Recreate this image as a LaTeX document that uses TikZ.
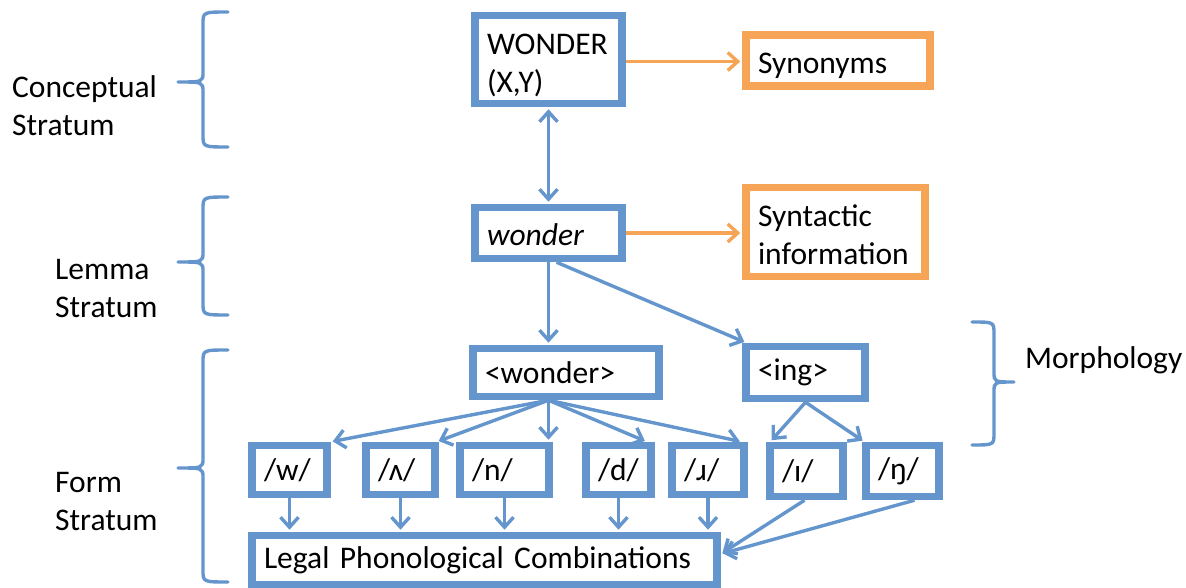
\documentclass[tikz,border=0pt]{standalone}
\usepackage{fontspec}
\setmainfont{Carlito}
\usetikzlibrary{arrows.meta}
\definecolor{bl}{RGB}{100,150,205}
\definecolor{og}{RGB}{245,165,85}
\newcommand\lowtxt[3]{\parbox{#1}{\raggedright\vspace*{#2}#3}}
\begin{document}
\begin{tikzpicture}[x=1pt,y=-1pt,
 font=\fontsize{31.5}{38}\selectfont,
 >={Straight Barb[length=10pt,width=18pt]},
 box/.style={draw=bl, line width=7.5pt, inner xsep=12pt, inner ysep=0pt, align=left},
 obox/.style={box, draw=og},
 conn/.style={draw=bl, line width=3.4pt, ->, shorten >=2pt},
 oconn/.style={conn, draw=og},
 brk/.style={draw=bl, line width=3.4pt, line join=round, line cap=round},
 lbl/.style={inner sep=0pt, align=left, anchor=west}
]
\useasboundingbox (0,0) rectangle (1186,588);

% boxes
\node[box, minimum height=88pt] (W) at (548.5,59.5) {\lowtxt{123pt}{12pt}{WONDER\\(X,Y)}};
\node[obox, minimum height=51pt] (syn) at (838,60.5) {\lowtxt{160pt}{10pt}{Synonyms}};
\node[box, minimum height=51pt] (wl) at (548.5,233) {\lowtxt{123pt}{4pt}{\itshape wonder}};
\node[obox, minimum height=89pt] (synt) at (835.5,232) {\lowtxt{155pt}{6pt}{Syntactic\\information}};
\node[box, text width=162pt, minimum height=48pt] (mw) at (566,372.5) {<wonder>};
\node[box, text width=95pt, minimum height=52pt] (ing) at (805.5,372.5) {<ing>};
\node[box, text width=51pt, minimum height=49pt] (pw) at (289.5,470) {/w/};
\node[box, text width=45pt, minimum height=49pt] (pv) at (400.5,470) {/ʌ/};
\node[box, text width=65pt, minimum height=49pt] (pn) at (504.5,470) {/n/};
\node[box, text width=41pt, minimum height=49pt] (pd) at (618.5,470) {/d/};
\node[box, text width=48pt, minimum height=49pt] (pr) at (708,470) {/ɹ/};
\node[box, text width=49pt, minimum height=51pt] (pi) at (806.5,471) {/ɪ/};
\node[box, text width=49pt, minimum height=51pt] (png) at (902.5,471) {/ŋ/};
\node[box, text width=441pt, minimum height=49pt] (L) at (484.5,560) {Legal Phonological Combinations};

% labels
\node[lbl] (lc) at (12,106) {Conceptual\\Stratum};
\node[lbl] (ll) at (55,289) {Lemma\\Stratum};
\node[lbl] (lf) at (55,502) {Form\\Stratum};
\node[lbl] (lm) at (1025,360) {Morphology};

% braces
\draw[brk] (228,12) .. controls (203,12) .. (203,24) -- (203,72) .. controls (203,82) .. (178,82) .. controls (203,82) .. (203,92) -- (203,135) .. controls (203,147) .. (228,147);
\draw[brk] (228,197) .. controls (203,197) .. (203,209) -- (203,252) .. controls (203,262) .. (178,262) .. controls (203,262) .. (203,272) -- (203,303) .. controls (203,315) .. (228,315);
\draw[brk] (228,350) .. controls (203,350) .. (203,362) -- (203,458) .. controls (203,468) .. (178,468) .. controls (203,468) .. (203,478) -- (203,570) .. controls (203,582) .. (228,582);
\draw[brk] (972,322) .. controls (994,322) .. (994,334) -- (994,372) .. controls (994,382) .. (1014,382) .. controls (994,382) .. (994,392) -- (994,433) .. controls (994,445) .. (972,445);

% connectors
\draw[conn, <->, shorten <=2pt] (W.south) -- (wl.north);
\draw[oconn] ([yshift=-2pt]W.east) -- ([yshift=-2pt]W.east -| syn.west);
\draw[oconn] (wl.east) -- (wl.east -| synt.west);
\draw[conn] (wl.south) -- (wl.south |- mw.north);
\draw[conn] ([xshift=8pt]wl.south) -- ([xshift=4pt]ing.north west);

\coordinate (fan) at (wl.south |- mw.south);
\draw[conn] (fan) -- (pw.north east);
\draw[conn] (fan) -- ([xshift=-2pt]pv.north east);
\draw[conn] (fan) -- (fan |- pn.north);
\draw[conn] (fan) -- ([xshift=-8pt]pd.north east);
\draw[conn] (fan) -- ([xshift=-6pt]pr.north east);
\draw[conn] (ing.south) -- ([xshift=4pt]pi.north west);
\draw[conn] (ing.south) -- ([xshift=2pt]png.north west);

\draw[conn] (pw.south) -- (pw.south |- L.north);
\draw[conn] (pv.south) -- (pv.south |- L.north);
\draw[conn] (pn.south) -- (pn.south |- L.north);
\draw[conn] (pd.south) -- (pd.south |- L.north);
\draw[conn] (pr.south) -- (pr.south |- L.north);
\draw[conn] ([xshift=-2pt]pi.south) -- ([yshift=6pt]L.east);
\draw[conn] ([xshift=12pt]png.south) -- ([yshift=6pt]L.east);
\end{tikzpicture}
\end{document}
